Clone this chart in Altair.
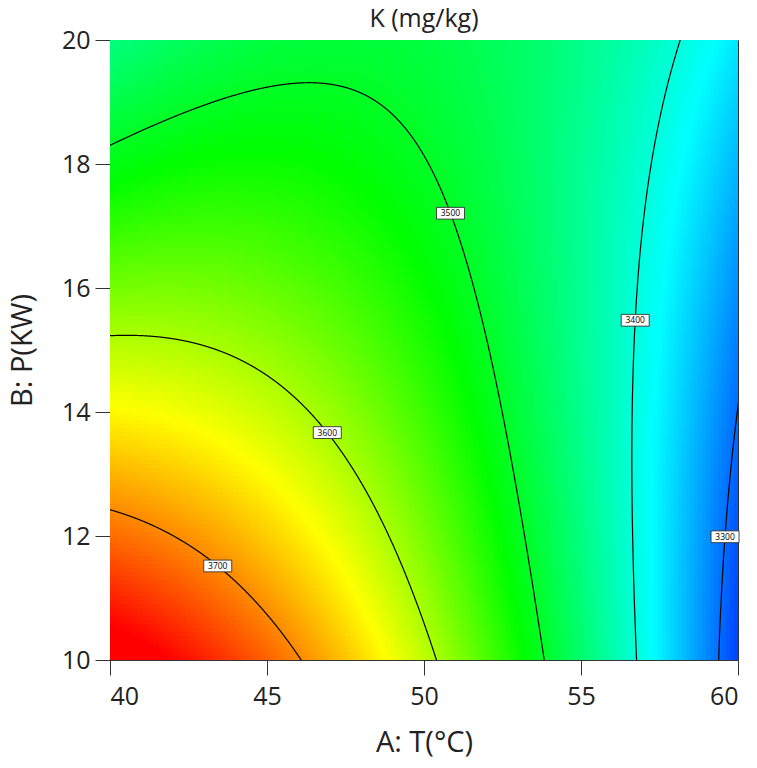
import numpy as np
import pandas as pd
import altair as alt

# Quadratic response-surface model in coded units a=(T-50)/10, b=(P-15)/5,
# coefficients estimated from the contour positions in the picture
coef_names = ["intercept", "A", "B", "AB", "A2", "B2"]
coef_values = [3534.4, -150.0, -63.0, 109.0, -76.5, 13.0]

T_range = [40, 60]
P_range = [10, 20]
x_ticks = [40, 45, 50, 55, 60]
y_ticks = [10, 12, 14, 16, 18, 20]
contour_levels = [3700, 3600, 3500, 3400, 3300]
contour_param = ["a", "a", "a", "b", "b"]
label_T = [43.56, 47.1, 50.9, 56.7, 59.5]
label_P = [11.6, 13.74, 17.22, 15.48, 11.99]
color_stops = [3240, 3380, 3520, 3640, 3770]
color_hex = ["#0000ff", "#00ffff", "#00ff00", "#ffff00", "#ff0000"]

c0, c1, c2, c12, c11, c22 = coef_values


def model(T, P):
    a = (T - 50.0) / 10.0
    b = (P - 15.0) / 5.0
    return c0 + c1 * a + c2 * b + c12 * a * b + c11 * a * a + c22 * b * b


# heat map cells (about 4 px each)
nT, nP = 157, 155
Te = np.linspace(T_range[0], T_range[1], nT + 1)
Pe = np.linspace(P_range[0], P_range[1], nP + 1)
Tc = (Te[:-1] + Te[1:]) / 2
Pc = (Pe[:-1] + Pe[1:]) / 2
TT, PP = np.meshgrid(np.arange(nT), np.arange(nP))
TT = TT.ravel()
PP = PP.ravel()
heat_df = pd.DataFrame({
    "T0": Te[TT], "T1": Te[TT + 1] + 0.03,
    "P0": Pe[PP], "P1": Pe[PP + 1] + 0.015,
    "K": np.round(model(Tc[TT], Pc[PP]), 2),
})

# contour lines solved from the model
rows = []
for lev, par in zip(contour_levels, contour_param):
    if par == "a":
        a = np.linspace(-1.02, 1.02, 3001)
        p = c2 + c12 * a
        q = c0 + c1 * a + c11 * a * a - lev
        disc = p * p - 4 * c22 * q
        ok = disc >= 0
        a = a[ok]
        b = (-p[ok] - np.sqrt(disc[ok])) / (2 * c22)
    else:
        b = np.linspace(-1.02, 1.02, 3001)
        p = c1 + c12 * b
        q = c0 + c2 * b + c22 * b * b - lev
        disc = p * p - 4 * c11 * q
        ok = disc >= 0
        b = b[ok]
        a = (-p[ok] - np.sqrt(disc[ok])) / (2 * c11)
    keep = (a >= -1.03) & (a <= 1.03) & (b >= -1.03) & (b <= 1.03)
    a = a[keep]
    b = b[keep]
    for i, (ai, bi) in enumerate(zip(a, b)):
        rows.append({"T": 50 + 10 * ai, "P": 15 + 5 * bi, "level": lev, "order": i})
line_df = pd.DataFrame(rows)

# label anchors: nearest point of each line to the label position
lab_rows = []
for lev, lt, lp in zip(contour_levels, label_T, label_P):
    sub = line_df[line_df.level == lev]
    d = ((sub["T"] - lt) * 31.4) ** 2 + ((sub["P"] - lp) * 62.0) ** 2
    r = sub.loc[d.idxmin()]
    lab_rows.append({"T": r["T"], "P": r["P"], "text": str(lev)})
lab_df = pd.DataFrame(lab_rows)

FONT = "Open Sans"
xscale = alt.Scale(domain=T_range, nice=False, zero=False)
yscale = alt.Scale(domain=P_range, nice=False, zero=False)
xaxis = alt.Axis(values=x_ticks, tickSize=15, labelPadding=9, grid=False,
                 titleX=314, titleY=82, titleBaseline="middle", titleAlign="center")
yaxis = alt.Axis(values=y_ticks, tickSize=15, labelPadding=5, grid=False,
                 titleX=-88, titleY=310, titleBaseline="middle", titleAlign="center",
                 titleAngle=-90)
XT = "A: T(°C)"
YT = "B: P(KW)"

heat = alt.Chart(heat_df).mark_rect(clip=True).encode(
    x=alt.X("T0:Q", scale=xscale, title=XT, axis=xaxis),
    x2="T1:Q",
    y=alt.Y("P0:Q", scale=yscale, title=YT, axis=yaxis),
    y2="P1:Q",
    color=alt.Color("K:Q", scale=alt.Scale(domain=color_stops, range=color_hex,
                                           interpolate="rgb", clamp=True), legend=None),
)

lines = alt.Chart(line_df).mark_line(color="black", strokeWidth=1.2, clip=True).encode(
    x=alt.X("T:Q", scale=xscale, title=XT, axis=xaxis),
    y=alt.Y("P:Q", scale=yscale, title=YT, axis=yaxis),
    detail="level:N",
    order="order:Q",
)

boxes = alt.Chart(lab_df).mark_point(
    shape="M-1,-0.42H1V0.42H-1Z", size=784, filled=True, fill="white",
    stroke="#333333", strokeWidth=0.9, opacity=1,
).encode(
    x=alt.X("T:Q", scale=xscale, title=XT, axis=xaxis),
    y=alt.Y("P:Q", scale=yscale, title=YT, axis=yaxis),
)

texts = alt.Chart(lab_df).mark_text(fontSize=8.5, font=FONT, color="black").encode(
    x=alt.X("T:Q", scale=xscale, title=XT, axis=xaxis),
    y=alt.Y("P:Q", scale=yscale, title=YT, axis=yaxis),
    text="text:N",
)

chart = alt.layer(heat, lines, boxes, texts).properties(
    width=628, height=620,
    autosize=alt.AutoSizeParams(type="none"),
    padding={"left": 110, "top": 40, "right": 19, "bottom": 108},
    title=alt.TitleParams("K (mg/kg)", fontSize=25, fontWeight="normal", font=FONT,
                          color="#222222", offset=-4, anchor="middle"),
).configure_view(stroke="#333333", strokeWidth=1).configure_axis(
    labelFont=FONT, titleFont=FONT, labelFontSize=25, titleFontSize=29,
    titleFontWeight="normal", labelColor="#222222", titleColor="#222222",
    domainColor="#333333", tickColor="#333333", domainWidth=1, tickWidth=1,
)

chart.save("out.html", embed_options={"renderer": "svg", "actions": False})
